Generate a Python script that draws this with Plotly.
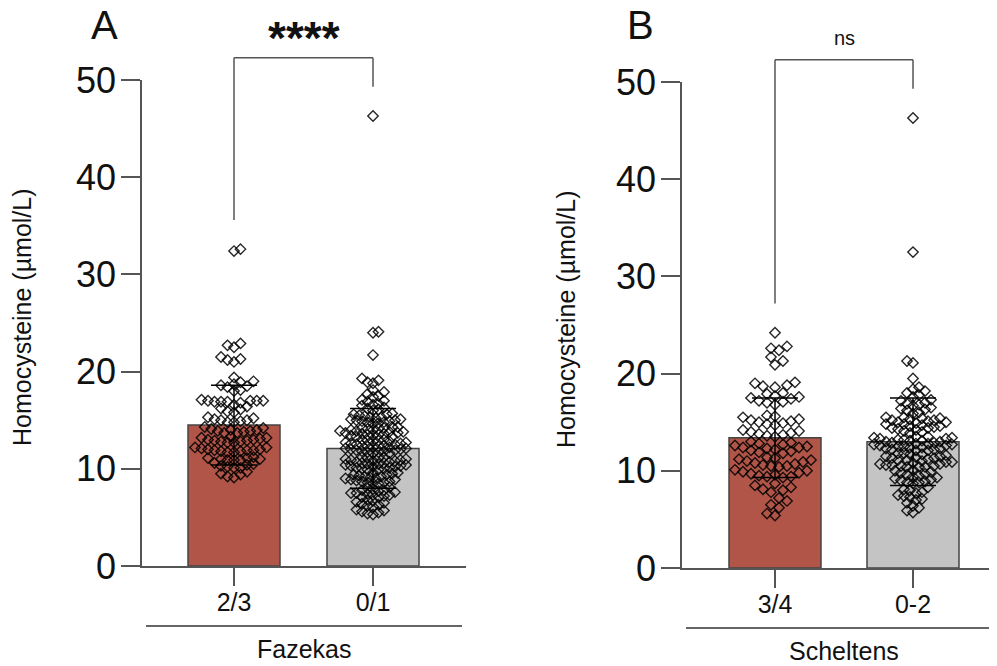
import plotly.graph_objects as go

# page geometry: the html body has an 8px margin, so the figure starts at (8, 8)
PAGE_W, PAGE_H = 997, 666
OFF = 8
W, H = PAGE_W - 2 * OFF, PAGE_H - OFF

# ---------------- data ----------------
cats_A = ["2/3", "0/1"]
cats_B = ["3/4", "0-2"]
title_A = "Fazekas"
title_B = "Scheltens"

means_A = [14.5, 12.1]
sd_A = [4.1, 4.1]
means_B = [13.4, 13.0]
sd_B = [4.1, 4.5]

A_red = [32.6, 32.4,
         22.9, 22.7, 22.5,
         21.5, 21.3, 21.2, 21.0,
         19.4,
         19.0, 18.9, 18.7, 18.6, 18.5, 18.4,
         18.1, 18.0,
         17.1, 17.0, 17.0, 17.0, 16.9, 16.9, 16.9, 17.0, 16.8,
         16.6, 16.4, 16.2, 16.1, 15.9, 15.8,
         15.3, 15.2, 15.1, 15.0, 15.0, 14.9, 14.8, 14.8,
         14.3, 14.2, 14.1, 14.0, 14.0, 13.9, 13.9, 13.8, 13.7, 13.7,
         13.3, 13.2, 13.2, 13.1, 13.0, 13.0, 12.9, 12.9, 12.8, 12.8, 12.7, 12.7,
         12.2, 12.2, 12.1, 12.0, 12.0, 11.9, 11.9, 11.9, 11.8, 11.8, 11.7, 11.7,
         11.2, 11.1, 11.1, 11.0, 11.0, 10.9, 10.9, 10.9,
         10.6, 10.5, 10.4, 10.3, 10.2, 10.1, 10.1,
         9.7, 9.5, 9.4, 9.2, 9.1]

A_gray = [46.3,
          24.1, 24.0,
          21.7,
          19.3, 19.1, 18.9, 18.8,
          18.1, 17.9, 17.7, 17.5, 17.4,
          17.1, 17.0, 16.9, 16.7, 16.6, 16.5, 16.3, 16.2, 16.1, 16.0,
          15.7, 15.6, 15.6, 15.5, 15.4, 15.3, 15.3, 15.2, 15.1, 15.1, 15.0, 15.0, 14.9, 14.9, 14.8, 14.8, 14.7, 14.7,
          14.3, 14.3, 14.2, 14.2, 14.1, 14.1, 14.0, 14.0, 13.9, 13.9, 13.8, 13.8, 13.7, 13.7, 13.6, 13.6,
          13.5, 13.5, 13.4, 13.4, 13.3, 13.3,
          13.0, 13.0, 12.9, 12.9, 12.8, 12.8, 12.7, 12.7, 12.6, 12.6, 12.5, 12.5, 12.4, 12.4, 12.3,
          12.3, 12.2, 12.2, 12.1, 12.1, 12.0, 12.0, 11.9, 11.9, 11.8, 11.8, 11.7, 11.7, 11.6, 11.6,
          11.2, 11.2, 11.1, 11.1, 11.0, 11.0, 10.9, 10.9, 10.8, 10.8, 10.7, 10.7, 10.6, 10.6,
          10.5, 10.5, 10.4, 10.4, 10.3, 10.3, 10.2, 10.2, 10.1, 10.1, 10.0, 10.0, 9.9, 9.9,
          9.6, 9.6, 9.5, 9.4, 9.4, 9.3, 9.2, 9.2, 9.1, 9.0, 9.0, 8.9, 8.9, 8.8, 8.7, 8.7, 8.6, 8.6, 8.5, 8.5,
          8.1, 8.0, 7.9, 7.8, 7.8, 7.7, 7.6, 7.5, 7.5, 7.4, 7.3, 7.3, 7.2, 7.1, 7.1,
          6.8, 6.7, 6.6, 6.5, 6.4, 6.3, 6.2, 6.1,
          5.8, 5.7, 5.6, 5.5, 5.4, 5.3]

B_red = [24.2,
         22.8, 22.6, 22.4,
         21.7, 21.3, 20.9,
         19.1, 19.0, 18.8, 18.7, 18.6,
         18.0, 17.9, 17.7, 17.6, 17.5, 17.4, 17.2, 17.1, 17.0, 16.8,
         15.7, 15.6, 15.5, 15.3, 15.2, 15.1, 15.0, 14.9, 14.8, 14.7,
         14.2, 14.1, 14.0, 13.9, 13.8, 13.7, 13.6, 13.5,
         13.0, 12.9, 12.8, 12.7, 12.6, 12.5, 12.4, 12.4, 12.3, 12.2, 12.1, 12.0, 11.9, 11.8,
         11.4, 11.3, 11.2, 11.1, 11.0, 10.9, 10.8, 10.7, 10.6, 10.5, 10.5, 10.4,
         10.1, 10.0, 9.9, 9.8, 9.7, 9.6, 9.5, 9.4, 9.4, 9.3,
         8.7, 8.5, 8.3, 8.1, 8.0, 7.8,
         7.2, 6.9, 6.5, 6.2,
         5.6, 5.4]

B_gray = [46.3, 32.5,
          21.3, 21.1,
          19.5,
          18.6, 18.4, 18.2, 18.0, 17.8, 17.6,
          17.3, 17.2, 17.0, 16.9, 16.8, 16.7, 16.5, 16.4, 16.3, 16.2, 16.0, 15.9,
          15.5, 15.5, 15.4, 15.4, 15.3, 15.2, 15.2, 15.1, 15.0, 15.0, 14.9, 14.8, 14.8, 14.7, 14.6, 14.6,
          14.5, 14.4, 14.4, 14.3, 14.2, 14.1, 14.0, 13.9,
          13.5, 13.5, 13.4, 13.4, 13.3, 13.3, 13.2, 13.2, 13.1, 13.1, 13.0, 13.0, 12.9, 12.9, 12.8,
          12.8, 12.7, 12.7, 12.6, 12.6, 12.5, 12.5, 12.4, 12.4, 12.3, 12.3, 12.2, 12.2, 12.1, 12.1,
          11.8, 11.8, 11.7, 11.7, 11.6, 11.5, 11.5, 11.4, 11.3, 11.3, 11.2, 11.1, 11.1, 11.0, 10.9,
          10.9, 10.8, 10.7, 10.7, 10.6, 10.6, 10.5, 10.5, 10.4, 10.4, 10.4,
          10.1, 10.0, 9.9, 9.8, 9.7, 9.6, 9.5, 9.4, 9.3, 9.2, 9.1, 9.0, 8.9, 8.8, 8.8, 8.7,
          8.3, 8.1, 8.0, 7.8, 7.7, 7.5, 7.4, 7.3, 7.1, 7.0,
          6.7, 6.4, 6.2, 5.9, 5.7]

sig_A = "****"
sig_B = "ns"
ytitle = "Homocysteine (µmol/L)"

# ---------------- styling / geometry (page pixels) ----------------
RED = "#B05548"
GRAY = "#C4C4C4"
AX = "#555555"
TXT = "#111111"
FONT = "Liberation Sans, Arial, sans-serif"

panels = [
    dict(xpx=(142, 466), ypx=(566, 80), c0=234, c1=373, suffix="", ytx=22, lbl=(104, 25)),
    dict(xpx=(682, 997), ypx=(568, 82), c0=775, c1=913, suffix="2", ytx=566, lbl=(640, 25)),
]


def px2paper_x(p):
    return (p - OFF) / W


def px2paper_y(p):
    return 1 - (p - OFF) / H


def swarm(vals, ky, target=41.0):
    """Simple beeswarm: returns horizontal pixel offsets."""
    n = len(vals)
    order = sorted(range(n), key=lambda i: vals[i])
    d = 11.0
    while True:
        placed = []
        xs = [0.0] * n
        step = d / 2.0
        for j, i in enumerate(order):
            y = vals[i] * ky
            near = [(px, py) for px, py in placed if abs(py - y) < d]
            best = None
            k = 0
            while best is None:
                sg = [1, -1] if (j % 2 == 0) else [-1, 1]
                cands = [0.0] if k == 0 else [s * k * step for s in sg]
                for x in cands:
                    if all((x - px) ** 2 + (y - py) ** 2 >= d * d for px, py in near):
                        best = x
                        break
                k += 1
            placed.append((best, y))
            xs[i] = best
        if max(abs(x) for x in xs) <= target or d <= 3:
            return xs
        d -= 0.5


def ann(text, x, y, size, xref="paper", angle=0):
    return dict(text=text, xref=xref, yref="paper", x=x, y=y, textangle=angle,
                xanchor="center", yanchor="middle", showarrow=False,
                font=dict(size=size, color=TXT, family=FONT))


fig = go.Figure()
layout_axes = {}
shapes = []
annotations = []

datasets = [
    (cats_A, means_A, sd_A, A_red, A_gray, title_A, sig_A, "A"),
    (cats_B, means_B, sd_B, B_red, B_gray, title_B, sig_B, "B"),
]

for p, (cats, means, sds, red, gray, xt, sig, letter) in zip(panels, datasets):
    sfx = p["suffix"]
    xa, ya = "x" + sfx, "y" + sfx
    x0px, x1px = p["xpx"]
    y0px, y1px = p["ypx"]
    kx = p["c1"] - p["c0"]
    ky = (y0px - y1px) / 50.0
    x1c = min(x1px, OFF + W)
    xr = [-(p["c0"] - x0px) / kx, 1 + (x1c - p["c1"]) / kx]
    bar_w = 92.0 / kx

    fig.add_trace(go.Bar(
        x=[0, 1], y=means, width=bar_w, xaxis=xa, yaxis=ya,
        marker=dict(color=[RED, GRAY], line=dict(color="#444444", width=1.5)),
        showlegend=False, hoverinfo="skip"))

    for ci, vals in enumerate([red, gray]):
        offs = swarm(vals, ky)
        fig.add_trace(go.Scatter(
            x=[ci + o / kx for o in offs], y=vals, mode="markers",
            xaxis=xa, yaxis=ya, showlegend=False, cliponaxis=False,
            marker=dict(symbol="diamond-open", size=8, color="rgba(0,0,0,0.85)",
                        line=dict(width=1.4, color="rgba(0,0,0,0.85)"))))

    fig.add_trace(go.Scatter(
        x=[0, 1], y=means, mode="markers", xaxis=xa, yaxis=ya,
        marker=dict(size=1, opacity=0), showlegend=False,
        error_y=dict(type="data", array=sds, visible=True, color="black",
                     thickness=1.5, width=23)))

    dom_y = [px2paper_y(y0px), px2paper_y(y1px)]
    layout_axes["xaxis" + sfx] = dict(
        domain=[px2paper_x(x0px), px2paper_x(x1c)], range=xr, anchor=ya,
        tickvals=[0, 1], ticktext=cats, ticks="outside", ticklen=18,
        tickwidth=1.5, tickcolor=AX, showline=True, linecolor=AX, linewidth=1.5,
        showgrid=False, zeroline=False, automargin=False, ticklabelstandoff=-5,
        tickfont=dict(size=25, color=TXT, family=FONT), fixedrange=True)
    layout_axes["yaxis" + sfx] = dict(
        domain=dom_y, range=[0, 50], anchor=xa,
        tickvals=[0, 10, 20, 30, 40, 50], ticks="outside", ticklen=19,
        tickwidth=1.5, tickcolor=AX, showline=True, linecolor=AX, linewidth=1.5,
        showgrid=False, zeroline=False, automargin=False, ticklabelstandoff=-2,
        tickfont=dict(size=36, color=TXT, family=FONT), fixedrange=True)

    def vy(v, dom_y=dom_y):
        return dom_y[0] + v / 50.0 * (dom_y[1] - dom_y[0])

    # significance bracket
    top = 52.3
    left_bottom = max(red) + 3.0
    right_bottom = max(gray) + 3.0
    for (xa0, ya0, xa1, ya1) in [(0, left_bottom, 0, top), (0, top, 1, top), (1, top, 1, right_bottom)]:
        shapes.append(dict(type="line", xref=xa, yref="paper", x0=xa0, x1=xa1,
                           y0=vy(ya0), y1=vy(ya1), line=dict(color=AX, width=1.5)))
    # group underline and title
    shapes.append(dict(type="line", xref="paper", yref="paper",
                       x0=px2paper_x(x0px + 4), x1=px2paper_x(min(x1px - 4, OFF + W)),
                       y0=px2paper_y(y0px + 60), y1=px2paper_y(y0px + 60),
                       line=dict(color="#333", width=1.5)))
    mid_px = (p["c0"] + p["c1"]) / 2.0
    annotations.append(ann(xt, px2paper_x(mid_px), px2paper_y(y0px + 83), 25))
    # y title
    annotations.append(ann(ytitle, px2paper_x(p["ytx"]), px2paper_y((y0px + y1px) / 2.0 - 6), 25,
                           angle=-90))
    # significance text
    if sig == "****":
        annotations.append(ann("<b>" + sig + "</b>", 0.5, px2paper_y(38), 46, xref=xa))
    else:
        annotations.append(ann(sig, 0.5, px2paper_y(38), 20, xref=xa))
    # panel letter
    annotations.append(ann(letter, px2paper_x(p["lbl"][0]), px2paper_y(p["lbl"][1]), 40))

fig.update_layout(
    template="none",
    width=W, height=H, margin=dict(l=0, r=0, t=0, b=0, pad=0),
    paper_bgcolor="white", plot_bgcolor="white",
    shapes=shapes, annotations=annotations, barmode="overlay",
    font=dict(family=FONT), showlegend=False)
fig.update_layout(**layout_axes)

fig.write_html("out.html")
